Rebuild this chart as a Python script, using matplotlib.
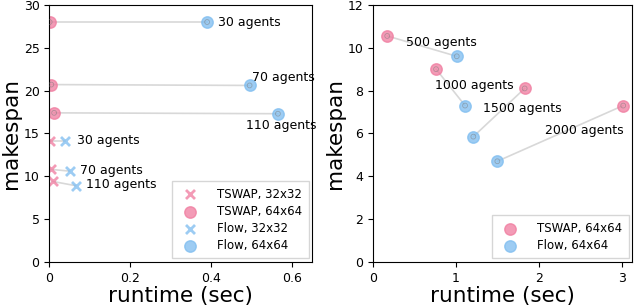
import numpy as np
import matplotlib.pyplot as plt

pink = '#f07a9e'
blue = '#7cbcf0'

# left panel data
tswap32_rt = [0.002, 0.005, 0.008]
tswap32_ms = [14.1, 10.8, 9.4]
flow32_rt = [0.040, 0.050, 0.065]
flow32_ms = [14.1, 10.6, 8.9]
labels32 = ['30 agents', '70 agents', '110 agents']

tswap64_rt = [0.001, 0.005, 0.012]
tswap64_ms = [28.0, 20.7, 17.4]
flow64_rt = [0.390, 0.495, 0.565]
flow64_ms = [28.0, 20.6, 17.3]
labels64 = ['30 agents', '70 agents', '110 agents']

# right panel data
big_tswap_rt = [0.17, 0.76, 1.83, 3.02]
big_tswap_ms = [10.55, 9.0, 8.1, 7.3]
big_flow_rt = [1.01, 1.11, 1.21, 1.50]
big_flow_ms = [9.6, 7.3, 5.85, 4.7]
big_labels = ['500 agents', '1000 agents', '1500 agents', '2000 agents']

fig = plt.figure(figsize=(6.4, 3.06), dpi=100)
ax1 = fig.add_axes([0.077, 0.144, 0.411, 0.840])
ax2 = fig.add_axes([0.583, 0.144, 0.405, 0.840])

lc = '#d8d8d8'
ms_o = 68
ms_x = 42

def pair(ax, x1, y1, x2, y2, m, ms):
    for a, b, c, d in zip(x1, y1, x2, y2):
        ax.plot([a, c], [b, d], color=lc, lw=1.2, zorder=1)
    lw = 2 if m == 'x' else 1
    ax.scatter(x1, y1, marker=m, s=ms, color=pink, alpha=0.75, zorder=2, linewidths=lw)
    ax.scatter(x2, y2, marker=m, s=ms, color=blue, alpha=0.75, zorder=2, linewidths=lw)
    if m == 'o':
        ax.scatter(x1 + x2, y1 + y2, marker='o', s=12, facecolor='none',
                   edgecolor='#777777', linewidths=0.6, alpha=0.5, zorder=3)

pair(ax1, tswap32_rt, tswap32_ms, flow32_rt, flow32_ms, 'x', ms_x)
pair(ax1, tswap64_rt, tswap64_ms, flow64_rt, flow64_ms, 'o', ms_o)

# legend handles
ax1.scatter([], [], marker='x', s=ms_x, linewidths=2, color=pink, alpha=0.75, label='TSWAP, 32x32')
ax1.scatter([], [], marker='o', s=ms_o, color=pink, alpha=0.75, label='TSWAP, 64x64')
ax1.scatter([], [], marker='x', s=ms_x, linewidths=2, color=blue, alpha=0.75, label='Flow, 32x32')
ax1.scatter([], [], marker='o', s=ms_o, color=blue, alpha=0.75, label='Flow, 64x64')

fs = 9
ax1.text(flow64_rt[0] + 0.027, flow64_ms[0], labels64[0], fontsize=fs, va='center')
ax1.text(flow64_rt[1] + 0.005, flow64_ms[1] + 0.95, labels64[1], fontsize=fs, va='center')
ax1.text(flow64_rt[2] - 0.08, flow64_ms[2] - 1.4, labels64[2], fontsize=fs, va='center')
offs = [0.028, 0.026, 0.025]
for x, y, t, o in zip(flow32_rt, flow32_ms, labels32, offs):
    ax1.text(x + o, y + 0.1, t, fontsize=fs, va='center')

leg_kw = dict(loc='lower right', fontsize=8.5, borderpad=0.55, labelspacing=0.35,
              handletextpad=1.3, borderaxespad=0.3, fancybox=False, edgecolor='#cccccc')

ax1.set_xlim(0, 0.65)
ax1.set_ylim(0, 30)
ax1.set_xticks([0, 0.2, 0.4, 0.6])
ax1.set_xticklabels(['0', '0.2', '0.4', '0.6'])
ax1.legend(**leg_kw)

pair(ax2, big_tswap_rt, big_tswap_ms, big_flow_rt, big_flow_ms, 'o', ms_o)
ax2.scatter([], [], marker='o', s=ms_o, color=pink, alpha=0.75, label='TSWAP, 64x64')
ax2.scatter([], [], marker='o', s=ms_o, color=blue, alpha=0.75, label='Flow, 64x64')
txt_pos = [(0.4, 10.25), (0.75, 8.25), (1.33, 7.15), (2.07, 6.15)]
for (x, y), t in zip(txt_pos, big_labels):
    ax2.text(x, y, t, fontsize=fs, va='center')
ax2.set_xlim(0, 3.13)
ax2.set_ylim(0, 12)
ax2.set_xticks([0, 1, 2, 3])
ax2.legend(**leg_kw)

for ax in (ax1, ax2):
    ax.set_xlabel('runtime (sec)', fontsize=15.5, labelpad=1)
    ax.set_ylabel('makespan', fontsize=15.5, labelpad=2)
    ax.tick_params(labelsize=9)

fig.savefig('out.png', dpi=100)
